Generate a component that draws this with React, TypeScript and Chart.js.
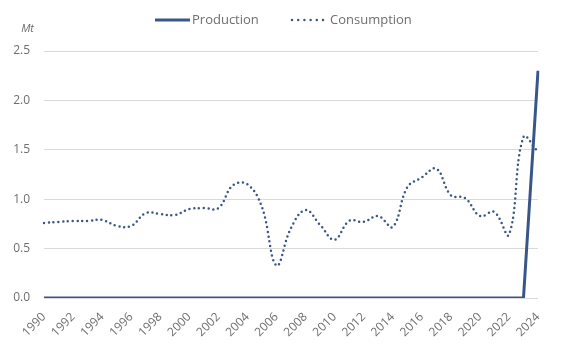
import React, { useEffect, useRef } from "react";
import { Chart, registerables } from "chart.js";

Chart.register(...registerables);

const years: string[] = [];
for (let y = 1990; y <= 2024; y++) years.push(String(y));

const production = [
  0, 0, 0, 0, 0, 0, 0, 0, 0, 0,
  0, 0, 0, 0, 0, 0, 0, 0, 0, 0,
  0, 0, 0, 0, 0, 0, 0, 0, 0, 0,
  0, 0, 0, 0, 2.3,
];

const consumption = [
  0.76, 0.77, 0.78, 0.78, 0.79, 0.73, 0.73, 0.86, 0.85, 0.84,
  0.9, 0.91, 0.91, 1.14, 1.15, 0.92, 0.33, 0.71, 0.89, 0.74,
  0.59, 0.78, 0.77, 0.83, 0.72, 1.12, 1.22, 1.31, 1.04, 1.01,
  0.83, 0.87, 0.64, 1.63, 1.48,
];

const yTicks = [0, 0.5, 1.0, 1.5, 2.0, 2.5];
const seriesNames = ["Production", "Consumption"];

const LINE = "#3A5689";
const TEXT = "#6E6E6E";
const FONT = "'Open Sans', sans-serif";

const overlayPlugin = {
  id: "overlay",
  afterDraw(chart: any) {
    const ctx = chart.ctx;
    ctx.save();
    // unit label
    ctx.font = `italic 11px ${FONT}`;
    ctx.fillStyle = TEXT;
    ctx.textAlign = "right";
    ctx.textBaseline = "middle";
    ctx.fillText("Mt", 34, 29);
    // legend
    const y = 20;
    ctx.font = `13px ${FONT}`;
    ctx.textAlign = "left";
    ctx.strokeStyle = LINE;
    // Production
    ctx.lineWidth = 3;
    ctx.setLineDash([]);
    ctx.beginPath();
    ctx.moveTo(155, y);
    ctx.lineTo(190, y);
    ctx.stroke();
    ctx.fillText(seriesNames[0], 192, y);
    // Consumption
    ctx.lineWidth = 2.5;
    ctx.lineCap = "round";
    ctx.setLineDash([0, 6.2]);
    ctx.beginPath();
    ctx.moveTo(292, y);
    ctx.lineTo(324, y);
    ctx.stroke();
    ctx.setLineDash([]);
    ctx.fillText(seriesNames[1], 330, y);
    ctx.restore();
  },
};

export default function App() {
  const ref = useRef<HTMLCanvasElement>(null);
  useEffect(() => {
    if (!ref.current) return;
    const chart = new Chart(ref.current, {
      type: "line",
      data: {
        labels: years,
        datasets: [
          {
            label: seriesNames[0],
            data: production,
            borderColor: LINE,
            backgroundColor: LINE,
            borderWidth: 3,
            pointRadius: 0,
            tension: 0,
          },
          {
            label: seriesNames[1],
            data: consumption,
            borderColor: LINE,
            backgroundColor: LINE,
            borderWidth: 2.5,
            borderDash: [0, 4.8],
            borderCapStyle: "round",
            pointRadius: 0,
            tension: 0.4,
          },
        ],
      },
      options: {
        animation: false,
        responsive: true,
        maintainAspectRatio: false,
        layout: { padding: { top: 51, right: 26, left: 0, bottom: 0 } },
        plugins: {
          legend: { display: false },
          tooltip: { enabled: false },
        },
        scales: {
          x: {
            grid: { display: false, drawTicks: false },
            border: { display: false },
            ticks: {
              autoSkip: false,
              maxRotation: 45,
              minRotation: 45,
              color: TEXT,
              font: { family: FONT, size: 12 },
              padding: 12,
              callback: (_v: any, i: number) => (i % 2 === 0 ? years[i] : null),
            },
            afterFit: (s: any) => {
              s.height = 53;
            },
          },
          y: {
            min: 0,
            max: 2.5,
            grid: { color: "#D9D9D9", drawTicks: false, lineWidth: 1 },
            border: { display: false },
            afterBuildTicks: (s: any) => {
              s.ticks = yTicks.map((v) => ({ value: v }));
            },
            ticks: {
              color: TEXT,
              font: { family: FONT, size: 12 },
              padding: 14,
              callback: (v: any) => Number(v).toFixed(1),
            },
            afterFit: (s: any) => {
              s.width = 44;
            },
          },
        },
      },
      plugins: [overlayPlugin],
    } as any);
    return () => chart.destroy();
  }, []);
  return (
    <div style={{ position: "absolute", left: 0, top: 0, width: 564, height: 351 }}>
      <canvas ref={ref} />
    </div>
  );
}
